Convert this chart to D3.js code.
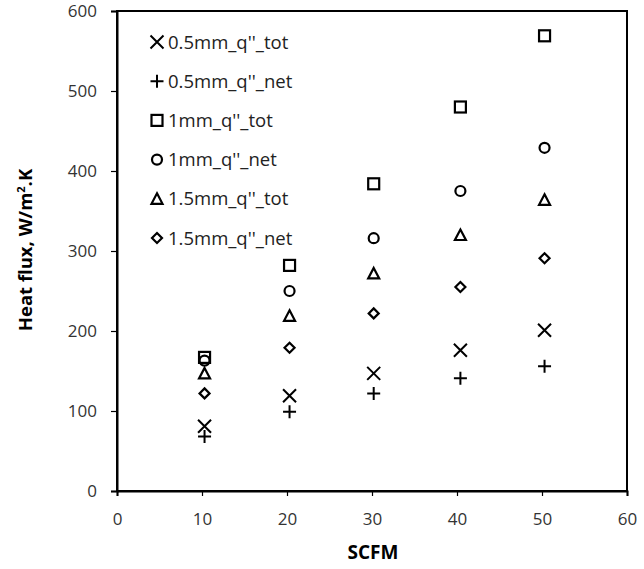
<!DOCTYPE html>
<html><head><meta charset="utf-8">
<script src="https://cdn.jsdelivr.net/npm/d3@7"></script>
<style>body{margin:0;background:#fff}svg{display:block}text{font-family:"Open Sans","Noto Sans",sans-serif}</style>
</head><body><svg id="c" width="644" height="569"></svg>
<script>
const scfm = [10.3, 20.3, 30.2, 40.4, 50.3];
const seriesNames = ["0.5mm_q''_tot","0.5mm_q''_net","1mm_q''_tot","1mm_q''_net","1.5mm_q''_tot","1.5mm_q''_net"];
const q05tot = [81, 119, 147, 176, 201];
const q05net = [68, 99, 122, 141, 156];
const q1tot = [167, 282, 384, 480, 569];
const q1net = [163, 250, 316, 375, 429];
const q15tot = [147, 219, 272, 320, 364];
const q15net = [122, 179, 222, 255, 291];
const xTicks = [0, 10, 20, 30, 40, 50, 60];
const yTicks = [0, 100, 200, 300, 400, 500, 600];
const markers = ["x","plus","square","circle","triangle","diamond"];
const allSeries = [q05tot, q05net, q1tot, q1net, q15tot, q15net];

const svg = d3.select("#c");
const L=117, R=627, T=11, B=491;
const x = d3.scaleLinear().domain([0,60]).range([L,R]);
const y = d3.scaleLinear().domain([0,600]).range([B,T]);

svg.append("rect").attr("x",L).attr("y",T).attr("width",R-L).attr("height",B-T)
  .attr("fill","none").attr("stroke","#000").attr("stroke-width",2);

const xa = svg.append("g").attr("transform",`translate(0,${B})`)
  .call(d3.axisBottom(x).tickValues(xTicks).tickSize(5).tickPadding(17));
const ya = svg.append("g").attr("transform",`translate(${L},0)`)
  .call(d3.axisLeft(y).tickValues(yTicks).tickSize(6).tickPadding(14));
[xa,ya].forEach(a=>{
  a.select(".domain").attr("stroke","#000").attr("stroke-width",2);
  a.selectAll(".tick line").attr("stroke","#000").attr("stroke-width",1.2);
  a.selectAll("text").attr("font-size",17).attr("fill","#333");
});

svg.append("text").attr("x",373).attr("y",559).attr("text-anchor","middle")
  .attr("font-size",19).attr("font-weight","bold").text("SCFM");
const yl = svg.append("text").attr("transform","translate(32,250) rotate(-90)")
  .attr("text-anchor","middle").attr("font-size",18.5).attr("font-weight","bold");
yl.append("tspan").text("Heat flux, W/m");
yl.append("tspan").attr("font-size",11).attr("dy",-7).text("2");
yl.append("tspan").attr("dy",7).text(".K");

function drawMarker(g, type, cx, cy){
  const s = g.append("g").attr("transform",`translate(${cx},${cy})`)
    .attr("fill","none").attr("stroke","#000");
  if(type==="x"){ s.append("path").attr("d","M-6.5,-6.5L6.5,6.5M-6.5,6.5L6.5,-6.5").attr("stroke-width",2); }
  else if(type==="plus"){ s.append("path").attr("d","M-6.5,0L6.5,0M0,-6.5L0,6.5").attr("stroke-width",2); }
  else if(type==="square"){ s.append("rect").attr("x",-5.5).attr("y",-5.5).attr("width",11).attr("height",11).attr("stroke-width",2.2); }
  else if(type==="circle"){ s.append("circle").attr("r",5).attr("stroke-width",2.2); }
  else if(type==="triangle"){ s.append("path").attr("d","M0,-5.5L5.5,5L-5.5,5Z").attr("stroke-width",2.2); }
  else if(type==="diamond"){ s.append("path").attr("d","M0,-5L5,0L0,5L-5,0Z").attr("stroke-width",2.2); }
}

const pts = svg.append("g");
allSeries.forEach((vals,i)=>{
  vals.forEach((v,j)=>drawMarker(pts, markers[i], x(scfm[j]), y(v)));
});

const lg = svg.append("g");
seriesNames.forEach((n,i)=>{
  const cy = 42 + i*39.2;
  drawMarker(lg, markers[i], 157, cy);
  lg.append("text").attr("x",168).attr("y",cy+6.5).attr("font-size",18.5).attr("fill","#222").text(n);
});
</script></body></html>
